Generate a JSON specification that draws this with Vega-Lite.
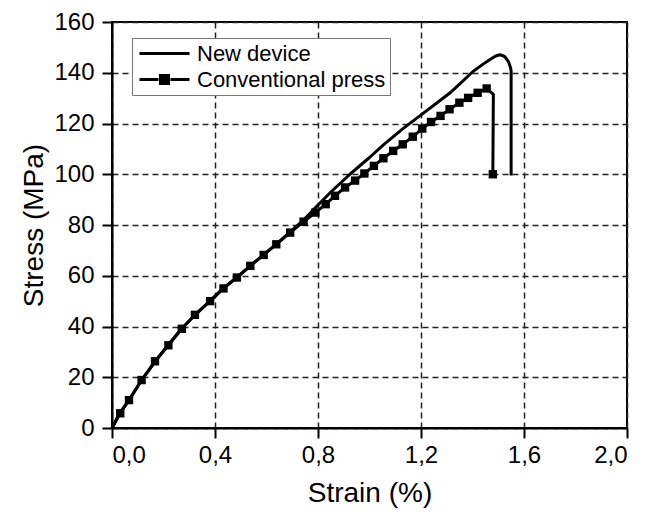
{
  "$schema": "https://vega.github.io/schema/vega-lite/v6.json",
  "width": 515,
  "height": 406,
  "autosize": "none",
  "padding": {"left": 112, "top": 22, "right": 34, "bottom": 85},
  "background": "white",
  "config": {
    "font": "Liberation Sans",
    "view": {"stroke": "black", "strokeWidth": 2},
    "axis": {
      "domainColor": "black", "domainWidth": 2,
      "tickColor": "black", "tickWidth": 2, "tickSize": 10,
      "labelFont": "Liberation Sans", "labelFontSize": 24, "labelColor": "black",
      "titleFont": "Liberation Sans", "titleFontSize": 28, "titleFontWeight": "normal", "titleColor": "black",
      "gridColor": "#222", "gridDash": [6, 4], "gridWidth": 1.5, "gridOpacity": 1
    }
  },
  "data": {
    "values": [
      {"series": "New device", "i": 0, "strain": 0, "stress": 0, "marker": false},
      {"series": "New device", "i": 1, "strain": 0.03, "stress": 6, "marker": false},
      {"series": "New device", "i": 2, "strain": 0.07, "stress": 11.6, "marker": false},
      {"series": "New device", "i": 3, "strain": 0.12, "stress": 19.6, "marker": false},
      {"series": "New device", "i": 4, "strain": 0.17, "stress": 26.5, "marker": false},
      {"series": "New device", "i": 5, "strain": 0.22, "stress": 33, "marker": false},
      {"series": "New device", "i": 6, "strain": 0.27, "stress": 39.1, "marker": false},
      {"series": "New device", "i": 7, "strain": 0.33, "stress": 45.3, "marker": false},
      {"series": "New device", "i": 8, "strain": 0.38, "stress": 50, "marker": false},
      {"series": "New device", "i": 9, "strain": 0.43, "stress": 54.9, "marker": false},
      {"series": "New device", "i": 10, "strain": 0.49, "stress": 59.8, "marker": false},
      {"series": "New device", "i": 11, "strain": 0.54, "stress": 64.2, "marker": false},
      {"series": "New device", "i": 12, "strain": 0.59, "stress": 68.4, "marker": false},
      {"series": "New device", "i": 13, "strain": 0.64, "stress": 72.7, "marker": false},
      {"series": "New device", "i": 14, "strain": 0.69, "stress": 77.1, "marker": false},
      {"series": "New device", "i": 15, "strain": 0.74, "stress": 81.6, "marker": false},
      {"series": "New device", "i": 16, "strain": 0.782, "stress": 86, "marker": false},
      {"series": "New device", "i": 17, "strain": 0.85, "stress": 93, "marker": false},
      {"series": "New device", "i": 18, "strain": 0.924, "stress": 100, "marker": false},
      {"series": "New device", "i": 19, "strain": 1.0, "stress": 106.6, "marker": false},
      {"series": "New device", "i": 20, "strain": 1.054, "stress": 111.6, "marker": false},
      {"series": "New device", "i": 21, "strain": 1.13, "stress": 118, "marker": false},
      {"series": "New device", "i": 22, "strain": 1.203, "stress": 123.6, "marker": false},
      {"series": "New device", "i": 23, "strain": 1.26, "stress": 128, "marker": false},
      {"series": "New device", "i": 24, "strain": 1.313, "stress": 132.1, "marker": false},
      {"series": "New device", "i": 25, "strain": 1.36, "stress": 136.5, "marker": false},
      {"series": "New device", "i": 26, "strain": 1.403, "stress": 140.6, "marker": false},
      {"series": "New device", "i": 27, "strain": 1.44, "stress": 143.3, "marker": false},
      {"series": "New device", "i": 28, "strain": 1.468, "stress": 145.2, "marker": false},
      {"series": "New device", "i": 29, "strain": 1.49, "stress": 146.6, "marker": false},
      {"series": "New device", "i": 30, "strain": 1.507, "stress": 147.1, "marker": false},
      {"series": "New device", "i": 31, "strain": 1.525, "stress": 146.4, "marker": false},
      {"series": "New device", "i": 32, "strain": 1.539, "stress": 144.5, "marker": false},
      {"series": "New device", "i": 33, "strain": 1.548, "stress": 142, "marker": false},
      {"series": "New device", "i": 34, "strain": 1.55, "stress": 140.6, "marker": false},
      {"series": "New device", "i": 35, "strain": 1.55, "stress": 99.5, "marker": false},
      {"series": "Conventional press", "i": 0, "strain": 0, "stress": 0, "marker": false},
      {"series": "Conventional press", "i": 1, "strain": 0.032, "stress": 5.8, "marker": true},
      {"series": "Conventional press", "i": 2, "strain": 0.066, "stress": 11.0, "marker": true},
      {"series": "Conventional press", "i": 3, "strain": 0.115, "stress": 18.9, "marker": true},
      {"series": "Conventional press", "i": 4, "strain": 0.167, "stress": 26.3, "marker": true},
      {"series": "Conventional press", "i": 5, "strain": 0.219, "stress": 32.6, "marker": true},
      {"series": "Conventional press", "i": 6, "strain": 0.271, "stress": 39.1, "marker": true},
      {"series": "Conventional press", "i": 7, "strain": 0.322, "stress": 44.6, "marker": true},
      {"series": "Conventional press", "i": 8, "strain": 0.381, "stress": 50.0, "marker": true},
      {"series": "Conventional press", "i": 9, "strain": 0.433, "stress": 55.0, "marker": true},
      {"series": "Conventional press", "i": 10, "strain": 0.485, "stress": 59.3, "marker": true},
      {"series": "Conventional press", "i": 11, "strain": 0.537, "stress": 63.9, "marker": true},
      {"series": "Conventional press", "i": 12, "strain": 0.589, "stress": 68.2, "marker": true},
      {"series": "Conventional press", "i": 13, "strain": 0.638, "stress": 72.4, "marker": true},
      {"series": "Conventional press", "i": 14, "strain": 0.692, "stress": 77.0, "marker": true},
      {"series": "Conventional press", "i": 15, "strain": 0.744, "stress": 81.3, "marker": true},
      {"series": "Conventional press", "i": 16, "strain": 0.79, "stress": 84.9, "marker": true},
      {"series": "Conventional press", "i": 17, "strain": 0.83, "stress": 88.2, "marker": true},
      {"series": "Conventional press", "i": 18, "strain": 0.866, "stress": 91.5, "marker": true},
      {"series": "Conventional press", "i": 19, "strain": 0.905, "stress": 94.8, "marker": true},
      {"series": "Conventional press", "i": 20, "strain": 0.944, "stress": 97.5, "marker": true},
      {"series": "Conventional press", "i": 21, "strain": 0.98, "stress": 100.3, "marker": true},
      {"series": "Conventional press", "i": 22, "strain": 1.017, "stress": 103.3, "marker": true},
      {"series": "Conventional press", "i": 23, "strain": 1.054, "stress": 106.3, "marker": true},
      {"series": "Conventional press", "i": 24, "strain": 1.092, "stress": 109.2, "marker": true},
      {"series": "Conventional press", "i": 25, "strain": 1.129, "stress": 111.8, "marker": true},
      {"series": "Conventional press", "i": 26, "strain": 1.168, "stress": 114.8, "marker": true},
      {"series": "Conventional press", "i": 27, "strain": 1.205, "stress": 118.0, "marker": true},
      {"series": "Conventional press", "i": 28, "strain": 1.239, "stress": 120.6, "marker": true},
      {"series": "Conventional press", "i": 29, "strain": 1.276, "stress": 123.0, "marker": true},
      {"series": "Conventional press", "i": 30, "strain": 1.311, "stress": 125.6, "marker": true},
      {"series": "Conventional press", "i": 31, "strain": 1.349, "stress": 128.2, "marker": true},
      {"series": "Conventional press", "i": 32, "strain": 1.383, "stress": 130.1, "marker": true},
      {"series": "Conventional press", "i": 33, "strain": 1.42, "stress": 132.1, "marker": true},
      {"series": "Conventional press", "i": 34, "strain": 1.455, "stress": 133.8, "marker": true},
      {"series": "Conventional press", "i": 35, "strain": 1.481, "stress": 131.5, "marker": false},
      {"series": "Conventional press", "i": 36, "strain": 1.479, "stress": 100, "marker": true}
    ]
  },
  "encoding": {
    "x": {
      "field": "strain", "type": "quantitative",
      "scale": {"domain": [0, 2], "nice": false},
      "axis": {
        "title": "Strain (%)", "values": [0, 0.4, 0.8, 1.2, 1.6, 2.0],
        "labelExpr": "replace(format(datum.value, '.1f'), '.', ',')",
        "labelPadding": 5, "titlePadding": 12
      }
    },
    "y": {
      "field": "stress", "type": "quantitative",
      "scale": {"domain": [0, 160], "nice": false},
      "axis": {
        "title": "Stress (MPa)", "values": [0, 20, 40, 60, 80, 100, 120, 140, 160],
        "labelPadding": 8, "titlePadding": 5
      }
    }
  },
  "layer": [
    {
      "mark": {"type": "line", "strokeWidth": 3, "color": "black", "strokeJoin": "round"},
      "encoding": {
        "order": {"field": "i", "type": "quantitative"},
        "color": {
          "field": "series", "type": "nominal",
          "scale": {"domain": ["New device", "Conventional press"], "range": ["black", "black"]},
          "legend": {
            "orient": "none", "legendX": 20, "legendY": 16, "title": null,
            "symbolType": "stroke", "symbolSize": 400, "symbolStrokeWidth": 3,
            "symbolOffset": 17,
            "labelFontSize": 22, "labelFont": "Liberation Sans", "labelColor": "black", "labelLimit": 400,
            "strokeColor": "#777", "fillColor": "white", "padding": 4, "rowPadding": 3,
            "labelOffset": 21,
            "encode": {
              "symbols": {
                "update": {
                  "shape": {"signal": "datum.value === 'New device' ? 'M-2.5,0H2.5' : 'M-2.5,0H-0.6M0.6,0H2.5M-0.4,-0.4H0.4V0.4H-0.4Z'"},
                  "fill": {"value": "black"},
                  "stroke": {"value": "black"}
                }
              }
            }
          }
        }
      }
    },
    {
      "transform": [{"filter": "datum.marker"}],
      "mark": {"type": "point", "shape": "square", "filled": true, "size": 70, "color": "black", "opacity": 1}
    }
  ]
}
